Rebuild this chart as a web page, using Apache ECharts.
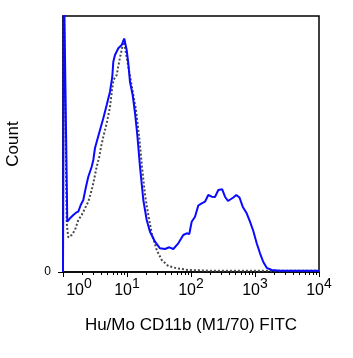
<!DOCTYPE html>
<html>
<head>
<meta charset="utf-8">
<script src="https://cdn.jsdelivr.net/npm/echarts@6/dist/echarts.min.js"></script>
<style>
  html, body { margin: 0; padding: 0; background: #fff; }
  #chart { width: 353px; height: 358px; }
</style>
</head>
<body>
<div id="chart"></div>
<script>
  // CD11b FITC stained (blue, solid)
  let stainedX = [1, 1.03, 1.167, 1.286, 1.449, 1.596, 1.734, 1.891, 2.075, 2.287, 2.485, 2.807, 2.974, 3.162,
    3.784, 4.263, 4.816, 5.423, 5.891, 6.109, 6.494, 7.311, 8.262, 9.05, 9.89, 10.48, 11.14, 12.27, 13.34,
    14.49, 15.96, 17.98, 20.32, 22.86, 27.38, 32.78, 39.26, 45.8, 52.9, 63.3, 75.8, 85.7, 94.0, 102.5,
    115.5, 130.0, 146.9, 165.5, 186.3, 210.5, 237.1, 267.2, 307.3, 339.8, 378.6, 406.4, 458.0, 510.2,
    572.5, 642.3, 741.3, 835.2, 940.6, 1063, 1197, 1348, 1524, 1824, 2458, 5047, 10000]
  let stainedY = [0, 300, 50.3, 53.7, 57, 59.3, 60.3, 67, 72, 85.3, 95.3, 105.3, 112, 124,
    142, 153.7, 167, 180.3, 195.3, 210.3, 217, 223.7, 227, 233.5, 222, 208.7, 190, 177, 159,
    137, 105.3, 72, 52, 40.3, 30.3, 23.7, 23, 24.7, 23, 28.7, 37, 38.7, 38, 50.3,
    55.3, 66.5, 68.7, 70.3, 77, 75.3, 75, 82, 82.7, 75.3, 71, 70.3, 74.5, 77,
    74.5, 65.3, 58.7, 50.3, 41, 28.7, 18.7, 10, 4.2, 2, 1.3, 1.3, 1.3]

  // isotype control (grey, dotted)
  let controlX = [1, 1.02, 1.142, 1.21, 1.368, 1.54, 1.734, 1.959, 2.206, 2.485, 2.807, 2.974, 3.363, 3.69,
    3.924, 4.263, 4.816, 5.423, 5.83, 6.15, 6.9, 7.63, 8.262, 8.88, 9.64, 10.48, 11.42, 12.54, 13.83,
    15.67, 17.15, 19.11, 21.52, 24.31, 29.11, 34.84, 44.2, 59.8, 90.7, 198.1, 10000]
  let controlY = [0, 300, 48.7, 34.7, 37, 42, 52, 57, 63.7, 70.3, 82, 88.7, 105.3, 115.3,
    125, 135.3, 148.7, 165, 182, 192, 197, 212, 222, 232, 218.7, 205.3, 192, 177, 162,
    132, 105.3, 77, 57, 39, 22, 12, 6, 3.7, 2, 1.3, 1.3]

  let xTicks = [1, 10, 100, 1000, 10000]

  let font = "'Liberation Sans', Arial, sans-serif"

  function pairs(xs, ys) {
    return xs.map(function (x, i) { return [x, ys[i]] })
  }

  let myChart = echarts.init(document.getElementById('chart'))
  let option = {
    animation: false,
    grid: {
      left: 63,
      right: 34,
      top: 16,
      bottom: 86,
      containLabel: false,
      outerBoundsMode: 'none',
      show: true,
      borderColor: '#000',
      borderWidth: 1.5
    },
    xAxis: {
      type: 'log',
      logBase: 10,
      min: 1,
      max: 10000,
      name: 'Hu/Mo CD11b (M1/70) FITC',
      nameLocation: 'middle',
      nameGap: 45,
      nameTextStyle: { fontFamily: font, fontSize: 17, color: '#000' },
      axisLine: { lineStyle: { color: '#000', width: 1.5 } },
      axisTick: { inside: false, length: 5, lineStyle: { color: '#000' } },
      minorTick: { show: true, splitNumber: 9, length: 3, lineStyle: { color: '#000' } },
      splitLine: { show: false },
      axisLabel: {
        margin: 11,
        customValues: xTicks,
        formatter: function (v) {
          let e = Math.round(Math.log10(v))
          return (e === 0 ? '{sp|}' : '') + '{b|10}{s|' + e + '}'
        },
        rich: {
          sp: { width: 32 },
          b: { fontFamily: font, fontSize: 16, color: '#000', verticalAlign: 'bottom', lineHeight: 16 },
          s: { fontFamily: font, fontSize: 14, color: '#000', verticalAlign: 'bottom', lineHeight: 14, padding: [0, 0, 8, 0] }
        }
      }
    },
    yAxis: {
      type: 'value',
      min: 0,
      max: 256,
      name: 'Count',
      nameLocation: 'middle',
      nameGap: 41,
      nameTextStyle: { fontFamily: font, fontSize: 17, color: '#000' },
      axisLine: { show: true, lineStyle: { color: '#000', width: 1.5 } },
      axisTick: { show: true, length: 5, customValues: [0], lineStyle: { color: '#000' } },
      splitLine: { show: false },
      axisLabel: {
        customValues: [0],
        margin: 12,
        fontFamily: font,
        fontSize: 12,
        color: '#000',
        verticalAlign: 'middle',
        padding: [0, 0, 8, 0]
      }
    },
    series: [
      {
        name: 'control',
        type: 'line',
        showSymbol: false,
        symbol: 'none',
        data: pairs(controlX, controlY),
        lineStyle: { color: '#4a4a4a', width: 2, type: [2, 2] }
      },
      {
        name: 'CD11b',
        type: 'line',
        showSymbol: false,
        symbol: 'none',
        data: pairs(stainedX, stainedY),
        lineStyle: { color: '#0a0aff', width: 2 }
      }
    ]
  }
  myChart.setOption(option)
</script>
</body>
</html>
